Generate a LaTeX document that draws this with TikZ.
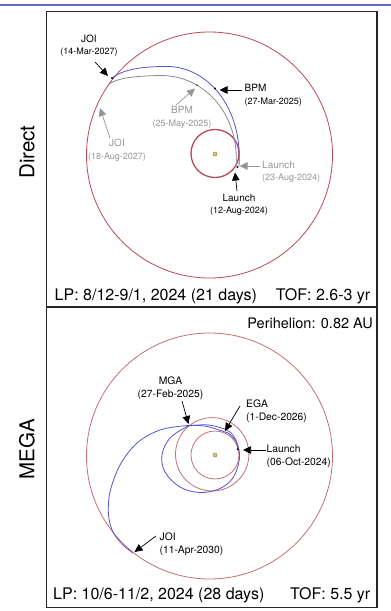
\documentclass[tikz,border=0pt]{standalone}
\usepackage{fontspec}
\setmainfont{TeX Gyre Heros}
\usetikzlibrary{arrows.meta}

\definecolor{orbitred}{RGB}{182,74,86}
\definecolor{trajblue}{RGB}{84,84,204}
\definecolor{trajgray}{RGB}{138,138,138}
\definecolor{labelgray}{RGB}{150,150,150}
\definecolor{ruleblue}{RGB}{92,104,196}

\newcommand\datesize{\fontsize{9}{12.5}\selectfont}

\tikzset{
  orbit/.style={draw=orbitred, line width=0.8pt},
  traj/.style={line width=0.8pt},
  evtarrow/.style={-{Triangle[length=8pt,width=7.5pt]}, line width=0.7pt},
  evtlabel/.style={inner sep=0pt, align=center, font=\fontsize{10}{12.5}\selectfont},
  megalabel/.style={inner sep=0pt, align=left, font=\fontsize{10.3}{12.7}\selectfont},
  bigtext/.style={inner sep=0pt, font=\fontsize{16}{19}\selectfont},
  sidetitle/.style={inner sep=0pt, rotate=90, font=\fontsize{20.5}{24}\selectfont},
  sundot/.style={fill=yellow!55!olive!70, draw=gray, line width=0.5pt},
}

\begin{document}
\begin{tikzpicture}[x=1pt, y=-1pt]
	\useasboundingbox (0,0) rectangle (391,611);
	% Rule and frame
	\draw[ruleblue, line width=2pt] (0,4.5) -- (391,4.5);
	\draw[black!85, line width=1.2pt] (46.7,11.5) rectangle (377,607.5);
	\draw[black!85, line width=1.2pt] (46.7,307) -- (377,307);
	\node[sidetitle] (tdirect) at (27,152) {Direct};
	\node[sidetitle] (tmega) at (27,449) {MEGA};

	% ---- Direct ----
	\draw[orbit] (209.5,155) circle (123pt);
	\draw[orbit, line width=1.3pt] (215,153.5) circle (24pt);
	\filldraw[sundot] (215,154) circle (2pt);
	% Gray trajectory
	\draw[trajgray, traj] (236,167) .. controls (240,115) and (205,75) .. (160,75.5)
		.. controls (135,76) and (118,78) .. (110,83.5);
	% Blue trajectory
	\draw[trajblue, traj] (239,166) .. controls (243,105) and (205,65) .. (165,66.5)
		.. controls (140,66.5) and (122,70) .. (112,78);
	\fill (112,78) circle (1.1pt);
	\fill (215,88.5) circle (1.1pt);
	\fill[trajgray!70!black] (197,85.2) circle (1.1pt);
	\fill (237.5,167) circle (1.1pt);
	% Black events
	\node[evtlabel] (joiA) at (89,45.5) {JOI\\{\datesize(14-Mar-2027)}};
	\coordinate (joiAtail) at (95,62);
	\coordinate (joiAtip) at (108,76);
	\draw[evtarrow] (joiAtail) -- (joiAtip);
	\node[evtlabel, anchor=west, align=left] (bpmA) at (244.5,95.5) {BPM\\{\datesize(27-Mar-2025)}};
	\coordinate (bpmAtail) at (242,90);
	\coordinate (bpmAtip) at (219.5,90);
	\draw[evtarrow] (bpmAtail) -- (bpmAtip);
	\node[evtlabel] (launchA) at (239,205) {Launch\\{\datesize(12-Aug-2024)}};
	\coordinate (launchAtail) at (237,191);
	\coordinate (launchAtip) at (235,172.5);
	\draw[evtarrow] (launchAtail) -- (launchAtip);
	% Gray events
	\node[evtlabel, text=labelgray] (bpmB) at (182,117.5) {BPM\\{\datesize(25-May-2025)}};
	\coordinate (bpmBtail) at (176,105);
	\coordinate (bpmBtip) at (195,88.5);
	\draw[evtarrow, labelgray] (bpmBtail) -- (bpmBtip);
	\node[evtlabel, text=labelgray] (joiB) at (117,150) {JOI\\{\datesize(18-Aug-2027)}};
	\coordinate (joiBtail) at (110,138);
	\coordinate (joiBtip) at (100,108);
	\draw[evtarrow, labelgray] (joiBtail) -- (joiBtip);
	\node[evtlabel, text=labelgray, anchor=west, align=left] (launchB) at (262,172) {Launch\\{\datesize(23-Aug-2024)}};
	\coordinate (launchBtail) at (260,166);
	\coordinate (launchBtip) at (239.5,166);
	\draw[evtarrow, labelgray] (launchBtail) -- (launchBtip);
	\node[bigtext, anchor=west] (lpA) at (54.5,296) {LP: 8/12-9/1, 2024 (21 days)};
	\node[bigtext, anchor=east] (tofA) at (370.5,296) {TOF: 2.6-3 yr};

	% ---- MEGA ----
	\node[inner sep=0pt, anchor=east, font=\fontsize{14.5}{17}\selectfont] (peri) at (373,323) {Perihelion: 0.82 AU};
	\draw[orbit, draw=orbitred!80] (209.5,456) circle (123pt);
	\draw[orbit, draw=orbitred!80] (212.2,454.3) circle (36.7pt);
	\draw[orbit, draw=orbitred!80] (215,455) circle (24pt);
	\filldraw[sundot] (215,455) circle (2pt);
	% Earth to Mars
	\draw[trajblue, traj] plot[smooth, tension=0.6] coordinates {
		(237.7,449.3) (236,440) (230,432) (220,427.5) (206,424.8) (188,426)};
	% Mars to Earth loop
	\draw[trajblue, traj] plot[smooth, tension=0.6] coordinates {
		(188,426) (170,438) (162,455) (165,472) (180,487) (200,492.5)
		(220,488.5) (233.5,477) (239.5,458) (236.5,442) (228,433)};
	% Earth to Jupiter
	\draw[trajblue, traj] plot[smooth, tension=0.55] coordinates {
		(228,433) (207,426.5) (188,425.5) (160,430) (137,443) (120,465)
		(110,492) (108.5,515) (113,532) (123,545) (133,553)};
	\fill (237.7,449.3) circle (1.1pt);
	\node[megalabel, align=center] (mga) at (170.5,388) {MGA\\(27-Feb-2025)};
	\coordinate (mgatail) at (182,401);
	\coordinate (mgatip) at (188.5,424);
	\draw[evtarrow] (mgatail) -- (mgatip);
	\node[megalabel, anchor=west] (ega) at (246,411) {EGA\\(1-Dec-2026)};
	\coordinate (egatail) at (240,406);
	\coordinate (egatip) at (225,431);
	\draw[evtarrow] (egatail) -- (egatip);
	\node[megalabel, anchor=west] (launchM) at (266.5,456) {Launch\\(06-Oct-2024)};
	\coordinate (launchMtail) at (266,450);
	\coordinate (launchMtip) at (243,450);
	\draw[evtarrow] (launchMtail) -- (launchMtip);
	\node[megalabel, anchor=west] (joiM) at (159.5,544.5) {JOI\\(11-Apr-2030)};
	\coordinate (joiMtail) at (156,536);
	\coordinate (joiMtip) at (134.5,552);
	\draw[evtarrow] (joiMtail) -- (joiMtip);
	\node[bigtext, anchor=west] (lpM) at (53,595) {LP: 10/6-11/2, 2024 (28 days)};
	\node[bigtext, anchor=east] (tofM) at (370.5,595) {TOF: 5.5 yr};
\end{tikzpicture}
\end{document}
